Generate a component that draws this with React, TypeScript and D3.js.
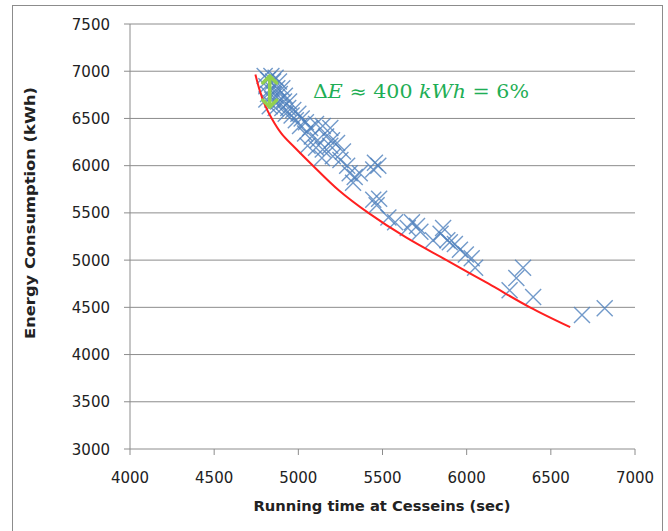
import React from "react";
import * as d3 from "d3";

// Scatter data: running time (sec) and energy consumption (kWh)
const runningTime = [
  4800, 4840, 4865, 4820, 4850, 4885, 4810, 4840, 4875, 4905,
  4820, 4855, 4890, 4920, 4810, 4845, 4880, 4915, 4945, 4830,
  4865, 4905, 4940, 4970, 4925, 4960, 5000, 4985, 5020, 5045,
  5010, 5070, 5105, 5145, 5190, 5040, 5080, 5115, 5165, 5200,
  5055, 5105, 5145, 5190, 5230, 5265, 5205, 5250, 5140, 5290,
  5305, 5335, 5365, 5325, 5455, 5445, 5475, 5445, 5465, 5480,
  5535, 5575, 5675, 5650, 5705, 5725, 5800, 5860, 5845, 5885,
  5900, 5930, 5960, 5995, 6030, 6050, 6255, 6295, 6335, 6395,
  6685, 6820,
];
const energy = [
  6950, 6950, 6930, 6910, 6890, 6890, 6840, 6820, 6820, 6820,
  6760, 6760, 6760, 6740, 6700, 6700, 6680, 6680, 6680, 6630,
  6610, 6610, 6610, 6590, 6550, 6530, 6550, 6480, 6500, 6460,
  6420, 6400, 6440, 6420, 6400, 6340, 6310, 6270, 6310, 6270,
  6210, 6190, 6170, 6210, 6240, 6150, 6100, 6060, 6080, 6000,
  5920, 5880, 5920, 5820, 6030, 5960, 6000, 5640, 5580, 5650,
  5450, 5400, 5400, 5340, 5360, 5300, 5210, 5340, 5280, 5210,
  5190, 5170, 5110, 5060, 5020, 4920, 4680, 4810, 4920, 4610,
  4420, 4490,
];

// Fitted lower-bound curve
const curveTime = [4745, 4770, 4800, 4842, 4900, 4980, 5087, 5240, 5416, 5640, 5880, 6130, 6376, 6615];
const curveEnergy = [6965, 6800, 6650, 6500, 6340, 6190, 6000, 5740, 5500, 5240, 5000, 4750, 4500, 4290];

// Delta-E arrow
const arrowTime = 4830;
const arrowTop = 6960;
const arrowBottom = 6610;

const xTicks = [4000, 4500, 5000, 5500, 6000, 6500, 7000];
const yTicks = [3000, 3500, 4000, 4500, 5000, 5500, 6000, 6500, 7000, 7500];

const W = 668;
const H = 531;

export default function App() {
  const x = d3.scaleLinear().domain([4000, 7000]).range([130, 635]);
  const y = d3.scaleLinear().domain([3000, 7500]).range([449, 24]);

  const curvePts: [number, number][] = curveTime.map((t, i) => [t, curveEnergy[i]]);
  const line = d3
    .line<[number, number]>()
    .x((d) => x(d[0]))
    .y((d) => y(d[1]))
    .curve(d3.curveCatmullRom.alpha(0.5));

  const gridColor = "#8c8c8c";
  const tickFont = "'DejaVu Sans', sans-serif";
  const ax = x(arrowTime);
  const ay1 = y(arrowTop);
  const ay2 = y(arrowBottom);

  return (
    <svg
      width={W}
      height={H}
      style={{ position: "absolute", left: 0, top: 0, background: "#fff" }}
    >
      <rect x={12.5} y={5.5} width={650} height={540} fill="#fff" stroke="#8c8c8c" strokeWidth={1} />

      {/* gridlines */}
      {yTicks.map((v) => (
        <line key={"g" + v} x1={x(4000)} x2={x(7000)} y1={y(v)} y2={y(v)} stroke={gridColor} strokeWidth={1} />
      ))}
      {/* y axis */}
      <line x1={x(4000)} x2={x(4000)} y1={y(7500)} y2={y(3000)} stroke={gridColor} />
      {yTicks.map((v) => (
        <g key={"yt" + v}>
          <line x1={x(4000) - 6} x2={x(4000)} y1={y(v)} y2={y(v)} stroke={gridColor} />
          <text
            x={110}
            y={y(v) + 5.5}
            textAnchor="end"
            fontFamily={tickFont}
            fontSize={15}
            fill="#222"
          >
            {v}
          </text>
        </g>
      ))}
      {/* x axis ticks */}
      {xTicks.map((v) => (
        <g key={"xt" + v}>
          <line x1={x(v)} x2={x(v)} y1={y(3000)} y2={y(3000) + 6} stroke={gridColor} />
          <text x={x(v)} y={483} textAnchor="middle" fontFamily={tickFont} fontSize={15} fill="#222">
            {v}
          </text>
        </g>
      ))}

      {/* axis titles */}
      <text
        x={382}
        y={511}
        textAnchor="middle"
        fontFamily={tickFont}
        fontWeight="bold"
        fontSize={14}
        fill="#222"
        textLength={257}
        lengthAdjust="spacingAndGlyphs"
      >
        Running time at Cesseins (sec)
      </text>
      <text
        transform={`translate(35,213) rotate(-90)`}
        textAnchor="middle"
        fontFamily={tickFont}
        fontWeight="bold"
        fontSize={14}
        fill="#222"
        textLength={252}
        lengthAdjust="spacingAndGlyphs"
      >
        Energy Consumption (kWh)
      </text>

      {/* scatter markers */}
      {runningTime.map((t, i) => {
        const cx = x(t);
        const cy = y(energy[i]);
        const s = 8;
        return (
          <path
            key={"p" + i}
            d={`M${cx - s},${cy - s}L${cx + s},${cy + s}M${cx - s},${cy + s}L${cx + s},${cy - s}`}
            stroke="#4f81bd"
            strokeWidth={1.4}
            strokeOpacity={0.8}
            fill="none"
          />
        );
      })}

      {/* red curve */}
      <path d={line(curvePts) || ""} fill="none" stroke="#ff2020" strokeWidth={2} />

      {/* green double arrow */}
      <g stroke="#92d050" strokeWidth={3.5} fill="none" strokeLinecap="round" strokeLinejoin="round">
        <line x1={ax} x2={ax} y1={ay1 + 1} y2={ay2 - 1} />
        <path d={`M${ax - 7},${ay1 + 8}L${ax},${ay1 + 1}L${ax + 7},${ay1 + 8}`} />
        <path d={`M${ax - 7},${ay2 - 8}L${ax},${ay2 - 1}L${ax + 7},${ay2 - 8}`} />
      </g>

      {/* annotation */}
      <text
        x={313}
        y={98}
        fontFamily="'DejaVu Serif', 'Liberation Serif', serif"
        fontSize={18}
        fill="#1fae55"
        textLength={216}
        lengthAdjust="spacingAndGlyphs"
      >
        <tspan>Δ</tspan>
        <tspan fontStyle="italic">E</tspan>
        <tspan>{"  ≈ 400 "}</tspan>
        <tspan fontStyle="italic">kWh</tspan>
        <tspan>{" = 6%"}</tspan>
      </text>
    </svg>
  );
}
